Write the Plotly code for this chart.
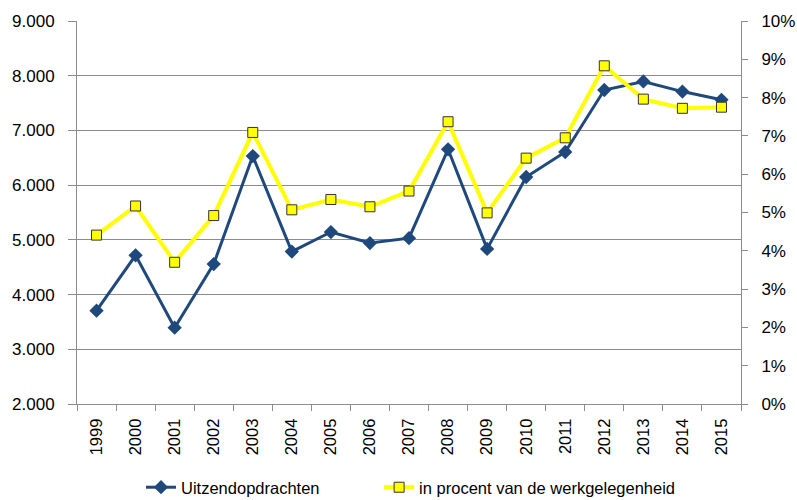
import plotly.graph_objects as go

years = ["1999", "2000", "2001", "2002", "2003", "2004", "2005", "2006", "2007",
         "2008", "2009", "2010", "2011", "2012", "2013", "2014", "2015"]
uitzend = [3705, 4718, 3395, 4558, 6532, 4785, 5143, 4942, 5030,
           6655, 4835, 6149, 6606, 7739, 7895, 7710, 7560]
procent = [4.41, 5.17, 3.70, 4.92, 7.09, 5.07, 5.34, 5.15, 5.56,
           7.37, 4.99, 6.42, 6.95, 8.83, 7.96, 7.72, 7.75]

left_vals = [2000, 3000, 4000, 5000, 6000, 7000, 8000, 9000]
left_text = ["2.000", "3.000", "4.000", "5.000", "6.000", "7.000", "8.000", "9.000"]
right_vals = list(range(0, 11))
right_text = [f"{v}%" for v in right_vals]

BLUE = "#1F497D"
YELLOW = "#FFFF00"
GRID = "#8C8C8C"
FONT = "Liberation Sans, Arial, sans-serif"

fig = go.Figure()
fig.add_trace(go.Scatter(
    x=years, y=uitzend, name="Uitzendopdrachten", mode="lines+markers",
    line=dict(color=BLUE, width=3),
    marker=dict(symbol="diamond", size=11, color=BLUE),
    yaxis="y", legend="legend"))
fig.add_trace(go.Scatter(
    x=years, y=procent, name="in procent van de werkgelegenheid", mode="lines+markers",
    line=dict(color=YELLOW, width=4),
    marker=dict(symbol="square", size=10, color=YELLOW, line=dict(color="#333333", width=1)),
    yaxis="y2", legend="legend2"))

leg_common = dict(orientation="h", xanchor="left", y=-0.218, yanchor="middle",
                  font=dict(size=16.5), itemwidth=30, bgcolor="rgba(0,0,0,0)")

fig.update_layout(
    width=797, height=500,
    margin=dict(l=77, r=56, t=21, b=96, autoexpand=False),
    paper_bgcolor="white", plot_bgcolor="white",
    font=dict(family=FONT, size=17, color="#000000"),
    showlegend=True,
    legend=dict(x=0.0964, **leg_common),
    legend2=dict(x=0.455, **leg_common),
    xaxis=dict(type="category", range=[-0.5, 16.5], autorange=False, automargin=False,
               showgrid=False, showline=True, linecolor=GRID, linewidth=1,
               ticks="outside", tickson="boundaries", ticklen=6, tickcolor=GRID,
               tickangle=-90, tickfont=dict(size=16.5), ticklabelstandoff=7),
    yaxis=dict(range=[2000, 9000], autorange=False, automargin=False,
               tickvals=left_vals, ticktext=left_text,
               showgrid=True, gridcolor=GRID, gridwidth=1,
               showline=True, linecolor=GRID, linewidth=1,
               ticks="outside", ticklen=8, tickcolor=GRID, ticklabelstandoff=10,
               zeroline=False),
    yaxis2=dict(range=[0, 10], autorange=False, automargin=False,
                tickvals=right_vals, ticktext=right_text,
                overlaying="y", side="right", showgrid=False,
                showline=True, linecolor=GRID, linewidth=1,
                ticks="outside", ticklen=6, tickcolor=GRID, ticklabelstandoff=10,
                zeroline=False),
)

fig.write_html("out.html", config={"displayModeBar": False},
               post_script="document.body.style.margin='0';document.body.style.overflow='hidden';")
